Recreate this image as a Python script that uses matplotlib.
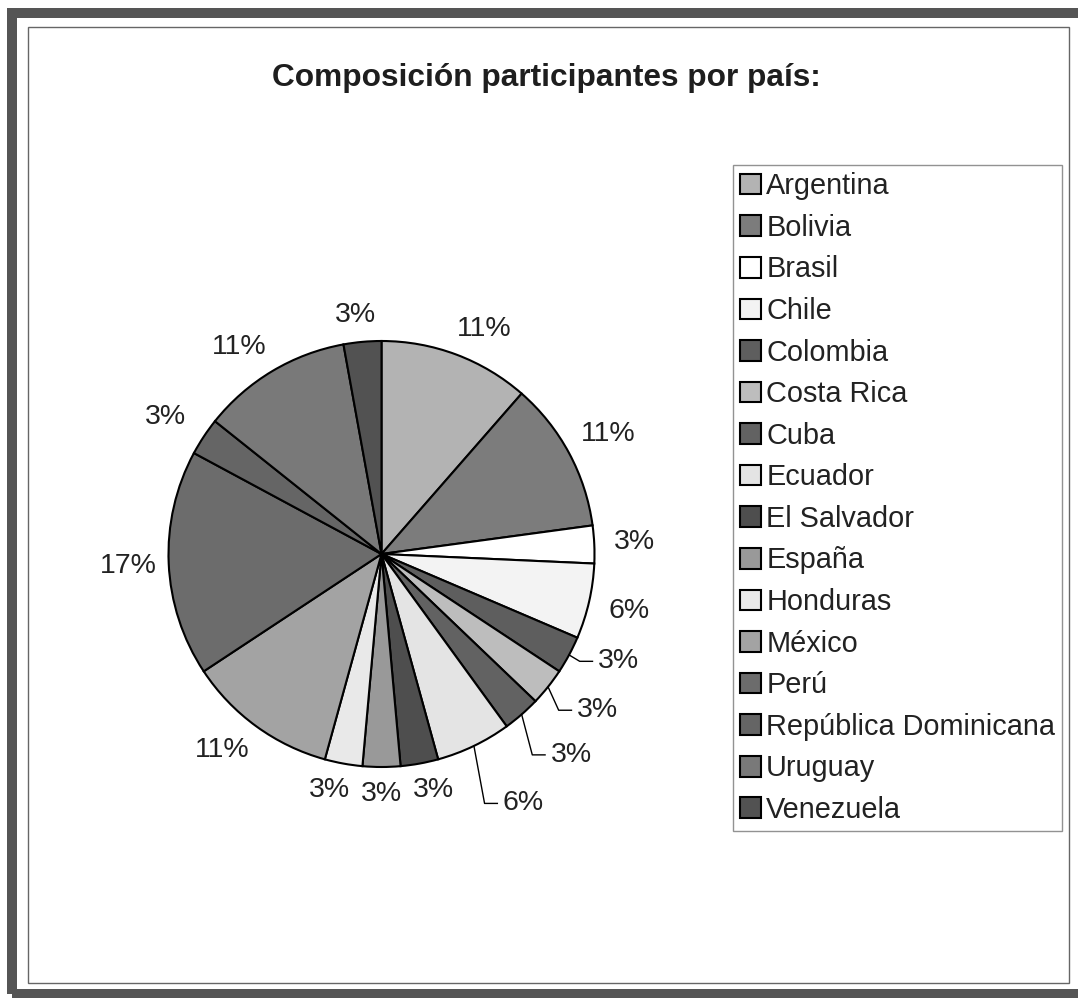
import numpy as np
import matplotlib
matplotlib.use('Agg')
import matplotlib.pyplot as plt
from matplotlib.patches import Rectangle, Patch

plt.rcParams['font.family'] = ['Liberation Sans', 'DejaVu Sans']

# datos: participantes por país
paises = ['Argentina', 'Bolivia', 'Brasil', 'Chile', 'Colombia', 'Costa Rica',
          'Cuba', 'Ecuador', 'El Salvador', 'España', 'Honduras', 'México',
          'Perú', 'República Dominicana', 'Uruguay', 'Venezuela']
participantes = [4, 4, 1, 2, 1, 1, 1, 2, 1, 1, 1, 4, 6, 1, 4, 1]
colores = ['#b3b3b3', '#7c7c7c', '#ffffff', '#f3f3f3', '#5e5e5e', '#bdbdbd',
           '#626262', '#e4e4e4', '#4e4e4e', '#999999', '#e9e9e9', '#a3a3a3',
           '#6c6c6c', '#656565', '#797979', '#525252']
# etiquetas con línea guía (Colombia, Costa Rica, Cuba, Ecuador)
con_guia = [False, False, False, False, True, True, True, True,
            False, False, False, False, False, False, False, False]

W, H = 1078, 998
fig = plt.figure(figsize=(W / 100, H / 100), dpi=100)

# marcos
fig.patches.append(Rectangle((12 / W, 1 - 994 / H), (1090 - 12) / W, (994 - 12.5) / H,
                             transform=fig.transFigure, fill=False, ec='#555555', lw=7.2))
fig.patches.append(Rectangle((28 / W, 1 - 983 / H), (1069 - 28) / W, (983 - 27) / H,
                             transform=fig.transFigure, fill=False, ec='#666666', lw=1.0))

fig.text(546 / W, 1 - 86 / H, 'Composición participantes por país:', ha='center',
         va='baseline', fontsize=22.8, fontweight='bold', color='#1e1e1e')

# pastel
cx, cy, R = 381.5, 554, 213
lim = 1.05
ax = fig.add_axes([(cx - R * lim) / W, 1 - (cy + R * lim) / H, 2 * R * lim / W, 2 * R * lim / H])
wedges, _ = ax.pie(participantes, colors=colores, startangle=90, counterclock=False,
                   wedgeprops=dict(edgecolor='black', linewidth=1.5))
ax.set_xlim(-lim, lim)
ax.set_ylim(-lim, lim)
ax.set_aspect('equal')
ax.axis('off')

total = sum(participantes)
k = 0
for w, n, guia in zip(wedges, participantes, con_guia):
    pct = '%.0f%%' % (100.0 * n / total)
    ang = np.deg2rad((w.theta1 + w.theta2) / 2)
    c, s = np.cos(ang), np.sin(ang)
    if guia:
        ex, ey = c, s
        ly = ey - (0.03 + 0.08 * k)
        lx = ex + 0.135
        ax.plot([ex, ex + 0.05, ex + 0.11], [ey, ly, ly], color='black', lw=1.0,
                clip_on=False)
        ax.text(lx, ly, pct, ha='left', va='center', fontsize=20.5, color='#222222')
        k += 1
    else:
        x = 1.07 * c + 0.12 * np.clip(c / 0.4, -1, 1)
        y = 1.07 * s + 0.055 * np.clip(s / 0.4, -1, 1)
        ax.text(x, y, pct, ha='center', va='center', fontsize=20.5, color='#222222')

handles = [Patch(facecolor=col, edgecolor='black', linewidth=1.5) for col in colores]
leg = fig.legend(handles, paises, loc='upper left', bbox_to_anchor=(733 / W, 1 - 165 / H),
                 bbox_transform=fig.transFigure, borderaxespad=0, fontsize=20.8,
                 frameon=True, fancybox=False, edgecolor='#777777', borderpad=0.25,
                 handlelength=0.72, handleheight=0.72, handletextpad=0.18,
                 labelspacing=0.47)
leg.get_frame().set_linewidth(1.0)
for t in leg.get_texts():
    t.set_color('#222222')

fig.savefig('out.png', dpi=100, facecolor='white')
